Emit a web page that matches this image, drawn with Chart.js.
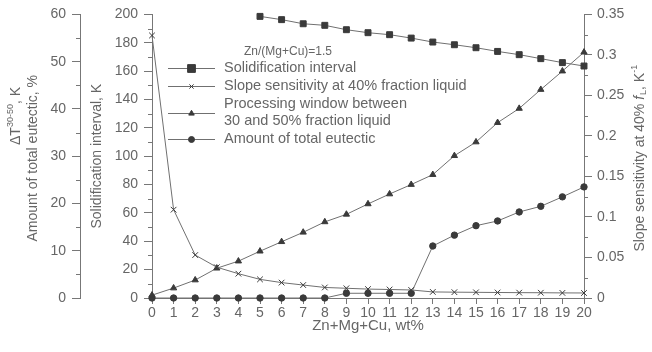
<!DOCTYPE html>
<html><head><meta charset="utf-8">
<script src="https://cdn.jsdelivr.net/npm/chart.js@4.4.0/dist/chart.umd.min.js"></script>
<style>html,body{margin:0;padding:0;background:#fff}#wrap{width:652px;height:352px;position:relative}</style>
</head><body><div id="wrap"><canvas id="c" width="652" height="352"></canvas></div>
<script>
// ---- data ----
const xLabels = ['0','1','2','3','4','5','6','7','8','9','10','11','12','13','14','15','16','17','18','19','20'];
const solidInterval = [null,null,null,null,null,198.6,196.3,193.4,192.3,189.2,187.1,185.7,183.3,180.5,178.6,176.5,173.9,171.6,168.8,166.0,163.6];
const slopeSens = [0.324,0.109,0.053,0.038,0.030,0.023,0.019,0.016,0.013,0.012,0.011,0.0105,0.0099,0.0075,0.0072,0.0070,0.0068,0.0066,0.0065,0.0063,0.0062];
const procWindow = [0.6,2.1,3.8,6.3,7.8,9.9,11.9,13.9,16.1,17.7,19.9,22.0,24.0,26.1,30.1,33.0,37.1,40.1,44.1,48.0,52.0];
const eutectic = [0,0,0,0,0,0,0,0,0,1.0,1.0,1.0,1.0,11.0,13.3,15.3,16.3,18.2,19.4,21.4,23.5];
const legendTitle = 'Zn/(Mg+Cu)=1.5';
const seriesNames = ['Solidification interval', 'Slope sensitivity at 40% fraction liquid', ['Processing window between', '30 and 50% fraction liquid'], 'Amount of total eutectic'];

const FONT = '"Liberation Sans", Arial, sans-serif';
const TXT = '#666';
const AX = '#777';
const LINE = '#707070';
const MK = '#3a3a3a';
Chart.defaults.font.family = FONT;
Chart.defaults.font.size = 14;
Chart.defaults.color = TXT;

const styles = [
  {pointStyle:'rect', radius:4.2, legendRadius:5.5},
  {pointStyle:'crossRot', radius:4, legendRadius:3},
  {pointStyle:'triangle', radius:3.6, legendRadius:3.2},
  {pointStyle:'circle', radius:3.2, legendRadius:3}
];

function fmtSlope(v){ return String(parseFloat(Number(v).toFixed(3))); }

const minorTicks = {
  yPct: {step:10, side:'left'},
  ySI: {step:20, side:'left'},
  ySlope: {step:0.05, side:'right'}
};

function drawRotated(ctx, cx, cy, parts) {
  ctx.save();
  let total = 0;
  for (const p of parts) { ctx.font = p.f; p.w = ctx.measureText(p.t).width + (p.gap || 0); total += p.w; }
  ctx.translate(cx, cy);
  ctx.rotate(-Math.PI/2);
  ctx.textAlign = 'left'; ctx.textBaseline = 'middle';
  let x = -total/2;
  for (const p of parts) { ctx.font = p.f; ctx.fillText(p.t, x, p.dy); x += p.w; }
  ctx.restore();
}

const customPlugin = {
  id: 'custom',
  afterDraw(chart) {
    const ctx = chart.ctx;
    ctx.save();
    // minor ticks
    ctx.strokeStyle = AX; ctx.lineWidth = 1;
    for (const id of Object.keys(minorTicks)) {
      const s = chart.scales[id];
      const m = minorTicks[id];
      const xEdge = m.side === 'left' ? s.right : s.left;
      for (let v = s.min + m.step/2; v < s.max; v += m.step) {
        const y = Math.round(s.getPixelForValue(v)) + 0.5;
        ctx.beginPath();
        if (m.side === 'left') { ctx.moveTo(xEdge - 4, y); ctx.lineTo(xEdge, y); }
        else { ctx.moveTo(xEdge, y); ctx.lineTo(xEdge + 4, y); }
        ctx.stroke();
      }
    }
    ctx.fillStyle = TXT;
    const fN = '14px ' + FONT, fI = 'italic 14px ' + FONT, fS = '9px ' + FONT;
    const midY = (chart.chartArea.top + chart.chartArea.bottom) / 2;
    // right axis title, reading bottom to top
    const rs = chart.scales.ySlope;
    drawRotated(ctx, rs.right - 12, midY + 2, [
      {t:'Slope sensitivity at 40% ', f:fN, dy:0},
      {t:'f', f:fI, dy:0, gap:1},
      {t:'L', f:fS, dy:4},
      {t:', K', f:fN, dy:0},
      {t:'-1', f:fS, dy:-5}
    ]);
    // far-left axis title (two lines)
    const ls = chart.scales.yPct;
    drawRotated(ctx, ls.left + 16, 116, [
      {t:'\u0394T', f:fN, dy:0},
      {t:'30-50', f:fS, dy:-5},
      {t:', K', f:fN, dy:0}
    ]);
    drawRotated(ctx, ls.left + 33, midY + 2, [
      {t:'Amount of total eutectic, %', f:fN, dy:0}
    ]);
    ctx.restore();

    // legend
    ctx.save();
    ctx.fillStyle = TXT;
    ctx.font = '12px ' + FONT;
    ctx.textAlign = 'center'; ctx.textBaseline = 'middle';
    ctx.fillText(legendTitle, 288, 52);
    ctx.font = '14.5px ' + FONT;
    ctx.textAlign = 'left';
    const rows = [
      {sy:68, ty:[68]},
      {sy:86, ty:[86]},
      {sy:113, ty:[104,121]},
      {sy:139, ty:[139]}
    ];
    rows.forEach((r, i) => {
      ctx.strokeStyle = LINE; ctx.lineWidth = 1;
      ctx.beginPath(); ctx.moveTo(168, r.sy + 0.5); ctx.lineTo(215, r.sy + 0.5); ctx.stroke();
      ctx.fillStyle = MK; ctx.strokeStyle = MK;
      Chart.helpers.drawPoint(ctx, {pointStyle: styles[i].pointStyle, radius: styles[i].legendRadius, borderWidth: 1, rotation: 0}, 191.5, r.sy + 0.5);
      ctx.fillStyle = TXT;
      const names = Array.isArray(seriesNames[i]) ? seriesNames[i] : [seriesNames[i]];
      names.forEach((n, k) => ctx.fillText(n, 224, r.ty[k]));
    });
    ctx.restore();
  }
};

function ds(label, data, axis, i) {
  return {
    label, data, yAxisID: axis,
    borderColor: LINE, borderWidth: 1,
    pointStyle: styles[i].pointStyle, pointRadius: styles[i].radius,
    pointBackgroundColor: MK, pointBorderColor: MK, pointBorderWidth: 1,
    pointHoverRadius: styles[i].radius,
    tension: 0, spanGaps: false, clip: false, fill: false
  };
}

new Chart(document.getElementById('c'), {
  type: 'line',
  data: {
    labels: xLabels,
    datasets: [
      ds('Solidification interval', solidInterval, 'ySI', 0),
      ds('Slope sensitivity at 40% fraction liquid', slopeSens, 'ySlope', 1),
      ds('Processing window between 30 and 50% fraction liquid', procWindow, 'yPct', 2),
      ds('Amount of total eutectic', eutectic, 'yPct', 3)
    ]
  },
  options: {
    responsive: false, devicePixelRatio: 1, animation: false,
    layout: {padding: {top: 14, left: 0, right: 0, bottom: 0}},
    plugins: {legend: {display: false}, tooltip: {enabled: false}},
    scales: {
      x: {
        type: 'category', offset: false,
        grid: {drawOnChartArea: false, tickLength: 6, color: AX},
        border: {display: true, color: AX, width: 1},
        ticks: {padding: 1, maxRotation: 0, autoSkip: false, color: TXT},
        title: {display: true, text: 'Zn+Mg+Cu, wt%', color: TXT, font: {size: 15}, padding: {top: 0, bottom: 17}},
        afterFit(s) { s.height = 54; }
      },
      ySI: {
        type: 'linear', position: 'left', weight: 0, min: 0, max: 200,
        grid: {drawOnChartArea: false, tickLength: 8, color: AX},
        border: {display: true, color: AX, width: 1},
        ticks: {stepSize: 20, padding: 6, color: TXT},
        title: {display: true, text: 'Solidification interval, K', color: TXT, font: {size: 14, lineHeight: 1.3}, padding: {top: 8, bottom: 0}},
        afterFit(s) { s.width = 72; }
      },
      yPct: {
        type: 'linear', position: 'left', weight: 1, min: 0, max: 60,
        grid: {drawOnChartArea: false, tickLength: 8, color: AX},
        border: {display: true, color: AX, width: 1},
        ticks: {stepSize: 10, padding: 6, color: TXT},
        title: {display: false},
        afterFit(s) { s.width = 80; }
      },
      ySlope: {
        type: 'linear', position: 'right', min: 0, max: 0.35,
        grid: {drawOnChartArea: false, tickLength: 8, color: AX},
        border: {display: true, color: AX, width: 1},
        ticks: {stepSize: 0.05, padding: 5, color: TXT, callback: fmtSlope},
        afterFit(s) { s.width = 68; }
      }
    }
  },
  plugins: [customPlugin]
});
</script>
</body></html>
